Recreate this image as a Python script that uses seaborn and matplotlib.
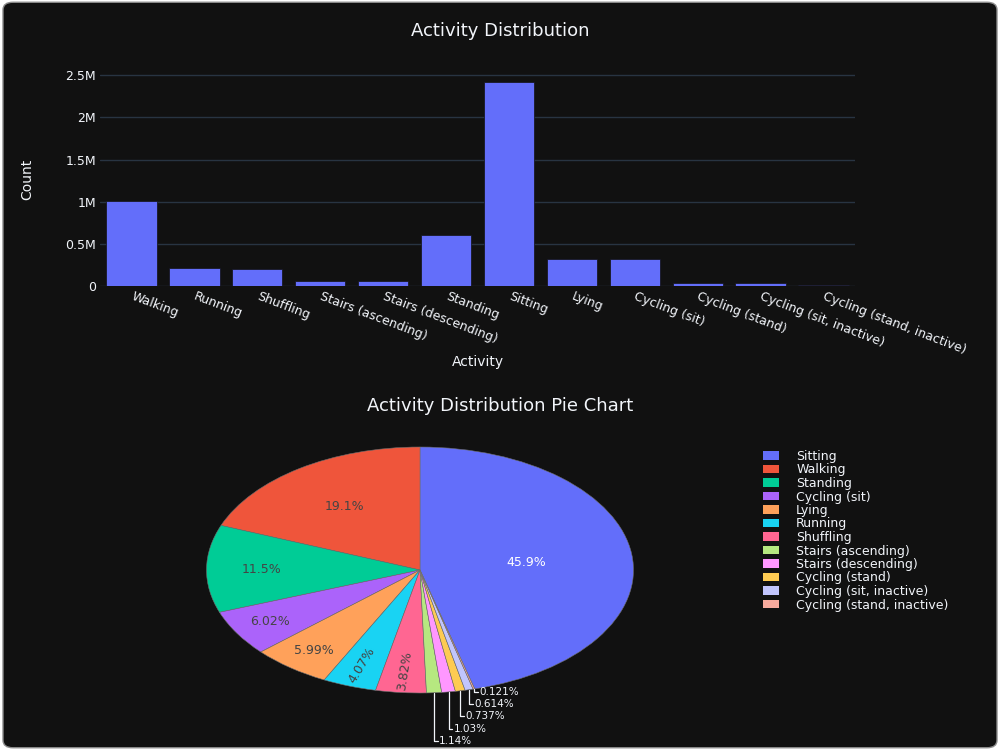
import numpy as np
import pandas as pd
import matplotlib
matplotlib.use('Agg')
import matplotlib.pyplot as plt
import matplotlib.ticker as mticker
import matplotlib.colors as mcolors
from matplotlib.patches import Patch, FancyBboxPatch
import seaborn as sns

# counts per activity, in the order of the bar chart
activities = ['Walking', 'Running', 'Shuffling', 'Stairs (ascending)', 'Stairs (descending)',
              'Standing', 'Sitting', 'Lying', 'Cycling (sit)', 'Cycling (stand)',
              'Cycling (sit, inactive)', 'Cycling (stand, inactive)']
counts = [1007000, 214500, 201300, 60100, 54300,
          606000, 2419000, 315700, 317300, 38840,
          32360, 6380]

# plotly colours, pie order (largest first)
pie_colors = ['#636efa', '#ef553b', '#00cc96', '#ab63fa', '#ffa15a', '#19d3f3',
              '#ff6692', '#b6e880', '#ff97ff', '#fecb52', '#c1c5fd', '#f7aa9d']

bar_title = 'Activity Distribution'
pie_title = 'Activity Distribution Pie Chart'
x_label = 'Activity'
y_label = 'Count'

BG = '#111111'
FG = '#f2f5fa'
GRID = '#283442'

sns.set_style('dark', rc={'axes.facecolor': BG, 'figure.facecolor': BG, 'text.color': FG,
                          'xtick.color': FG, 'ytick.color': FG, 'axes.labelcolor': FG})
plt.rcParams['font.family'] = ['DejaVu Sans']

fig = plt.figure(figsize=(10, 7.5), dpi=100)
fig.patch.set_facecolor('white')
# dark rounded card behind everything
frame = FancyBboxPatch((0.003, 0.003), 0.994, 0.994, boxstyle='round,pad=0,rounding_size=0.01',
                       transform=fig.transFigure, facecolor=BG, edgecolor='#8c8c8c',
                       linewidth=1, zorder=-10)
fig.add_artist(frame)

df = pd.DataFrame({'Activity': activities, 'Count': counts})

# ---- bar chart ----
ax1 = fig.add_axes([0.100, 1 - 286 / 750, 0.755, 214 / 750])
sns.barplot(data=df, x='Activity', y='Count', color='#636efa', saturation=1, width=0.8,
            edgecolor=BG, linewidth=0.5, ax=ax1)
ax1.set_xlim(-0.5, len(activities) - 0.5)
ax1.set_ylim(0, df['Count'].max() * 1.05)
ax1.yaxis.set_major_locator(mticker.MultipleLocator(500000))
ax1.yaxis.set_major_formatter(mticker.FuncFormatter(
    lambda v, p: '0' if v == 0 else '{:g}M'.format(v / 1e6)))
ax1.grid(axis='y', color=GRID, linewidth=1)
ax1.grid(axis='x', visible=False)
ax1.set_axisbelow(True)
for s in ax1.spines.values():
    s.set_visible(False)
ax1.tick_params(length=0, labelsize=9)
ax1.tick_params(axis='x', pad=7)
ax1.tick_params(axis='y', pad=3)
plt.setp(ax1.get_xticklabels(), rotation=-21, ha='left', va='center', rotation_mode='anchor')
ax1.set_xlabel(x_label, fontsize=10)
ax1.xaxis.set_label_coords(0.5, -0.355)
ax1.xaxis.label.set_va('center')
ax1.set_ylabel(y_label, fontsize=10)
ax1.yaxis.set_label_coords(-0.097, 0.5)
ax1.yaxis.label.set_va('center')

# ---- pie chart ----
pie_df = df.sort_values('Count', ascending=False, kind='stable')
values = pie_df['Count'].to_numpy()
names = pie_df['Activity'].tolist()
total = values.sum()
pct = values / total * 100
# first slice ends at 12 o'clock, the rest go counterclockwise from there
start = 90 - 360 * values[0] / total

pie_box = [0.2065, 1 - 693 / 750, 0.427, 246 / 750]
ax2 = fig.add_axes(pie_box)
wedges, _ = ax2.pie(values, colors=pie_colors, startangle=start, counterclock=True,
                    wedgeprops=dict(edgecolor='#6e6e6e', linewidth=0.4))
ax2.set_aspect('auto')
ax2.set_xlim(-1, 1)
ax2.set_ylim(-1, 1)
ax2.axis('off')
stretch = (pie_box[2] * 1000) / (pie_box[3] * 750)

small = []
for w, p, c in zip(wedges, pct, pie_colors):
    theta = np.deg2rad((w.theta1 + w.theta2) / 2)
    label = '{:.3g}%'.format(p)
    r_, g_, b_ = mcolors.to_rgb(c)
    bright = (299 * r_ + 587 * g_ + 114 * b_) * 255 / 1000
    tcol = 'white' if bright < 128 else '#444444'
    if p >= 3:
        rad = 0.5 if p > 30 else (0.63 if p > 15 else (0.74 if p > 10 else 0.82))
        rot = 0
        if p < 5:
            # radial text for narrow slices
            rot = np.degrees(np.arctan2(np.sin(theta), np.cos(theta) * stretch)) + 180
        ax2.text(rad * np.cos(theta), rad * np.sin(theta), label, color=tcol,
                 ha='center', va='center', rotation=rot, fontsize=9)
    else:
        small.append((theta, label))

# outside labels with elbow leader lines, smallest slice on top
for k, (theta, label) in enumerate(reversed(small)):
    y = -0.99 - 0.1 * k
    x0, y0 = np.cos(theta), np.sin(theta)
    ax2.plot([x0, x0, x0 + 0.018], [y0, y, y], color=FG, lw=0.9, clip_on=False)
    ax2.text(x0 + 0.024, y, label, color=FG, fontsize=7.5, ha='left', va='center', clip_on=False)

handles = [Patch(facecolor=c, edgecolor='none') for c in pie_colors]
fig.legend(handles, names, loc='upper left', bbox_to_anchor=(0.763, 1 - 450 / 750),
           frameon=False, fontsize=9, labelspacing=0.04, handlelength=1.3, handleheight=0.65,
           handletextpad=1.35, borderpad=0, borderaxespad=0, labelcolor=FG)

fig.text(0.5, 1 - 31 / 750, bar_title, ha='center', va='center', fontsize=13, color=FG)
fig.text(0.5, 1 - 406 / 750, pie_title, ha='center', va='center', fontsize=13, color=FG)

fig.savefig('out.png', dpi=100, facecolor=fig.get_facecolor())
